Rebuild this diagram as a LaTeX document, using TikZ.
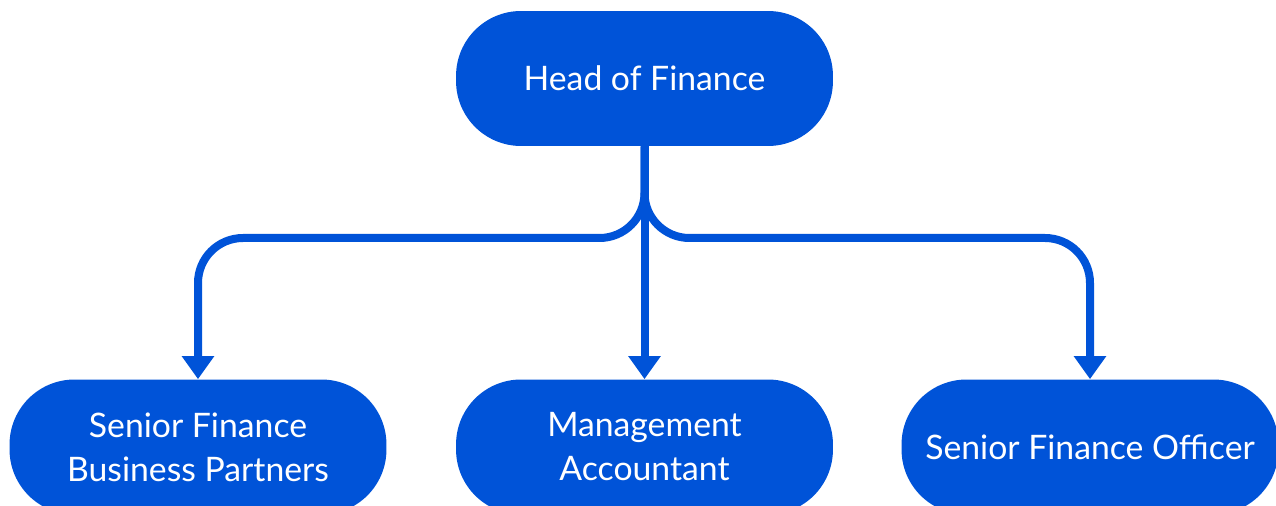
\documentclass[tikz,border=0pt]{standalone}
\usepackage{fontspec}
\setmainfont{Lato}
\usepackage{xcolor}
\usetikzlibrary{arrows.meta}
\definecolor{B}{RGB}{0,83,216}
\tikzset{
  role/.style={fill=B, text=white, rounded corners=1.3cm, minimum width=7.54cm,
    minimum height=2.7cm, align=center, inner sep=0pt,
    font=\fontsize{19.2}{25}\selectfont},
  link/.style={draw=B, line width=0.16cm, rounded corners=0.9cm,
    -{Triangle[width=0.62cm,length=0.46cm]}}
}
\newcommand{\rolenode}[4]{\node[role] (#1) at (#2,#3) {#4};}
\newcommand{\drawlink}{\draw[link]}

\begin{document}
\begin{tikzpicture}[x=0.02cm,y=-0.02cm]
\useasboundingbox (0,0) rectangle (1276,506);
\clip (0,0) rectangle (1276,506);
\rolenode{head}{644.5}{78.5}{Head of Finance}
\rolenode{partners}{198}{447}{Senior Finance\\Business Partners}
\rolenode{accountant}{644.5}{447}{Management\\Accountant}
\rolenode{officer}{1090}{447}{Senior Finance Officer}
\coordinate (split) at (644.5,238);
\drawlink (head.south) -- (split) -| (partners.north);
\drawlink (head.south) -- (accountant.north);
\drawlink (head.south) -- (split) -| (officer.north);
\end{tikzpicture}
\end{document}
